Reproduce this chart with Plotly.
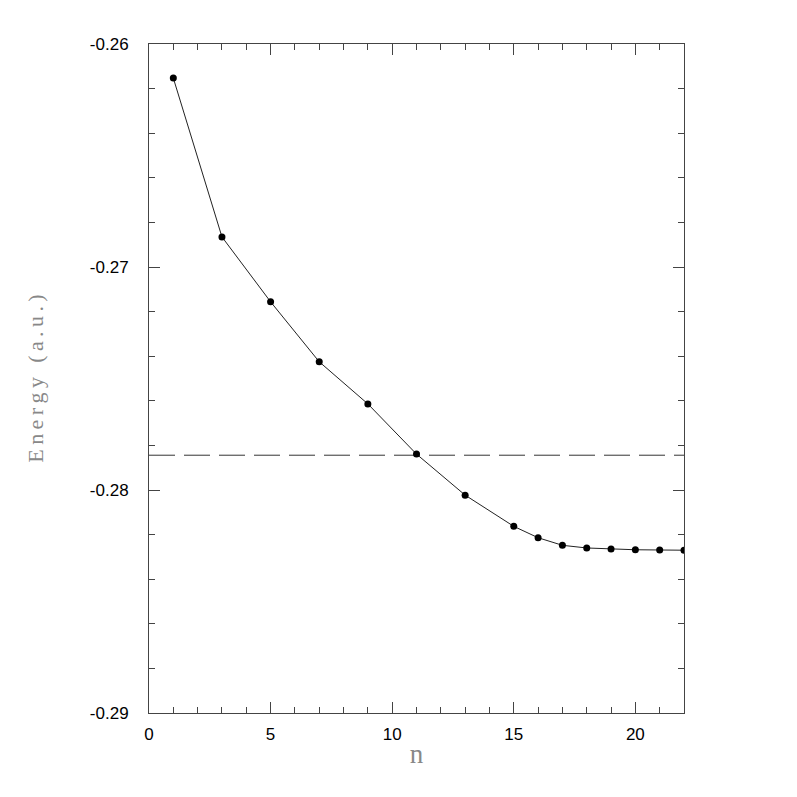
import plotly.graph_objects as go

n_values = [1, 3, 5, 7, 9, 11, 13, 15, 16, 17, 18, 19, 20, 21, 22]
energy = [-0.26153, -0.26865, -0.27156, -0.27425, -0.27614, -0.27839, -0.28023,
          -0.28163, -0.28214, -0.28248, -0.28260, -0.28265, -0.28268, -0.28269, -0.28270]
reference_energy = -0.27844
x_range = [0, 22]
y_range = [-0.29, -0.26]
x_tickvals = [0, 5, 10, 15, 20]
y_tickvals = [-0.29, -0.28, -0.27, -0.26]
y_ticktext = ["-0.29", "-0.28", "-0.27", "-0.26"]
x_title = "n"
y_title = "Energy (a.u.)"

def spaced(s):
    return "\u2009".join(list(s))

fig = go.Figure()
fig.add_trace(go.Scatter(
    x=x_range, y=[reference_energy, reference_energy], mode="lines",
    line=dict(color="#333333", width=1, dash="26px,9px"), hoverinfo="skip"))
fig.add_trace(go.Scatter(
    x=n_values, y=energy, mode="lines+markers",
    line=dict(color="#222222", width=1),
    marker=dict(color="black", size=7)))

axis_common = dict(
    showgrid=False, zeroline=False, showline=True, linecolor="#444444", linewidth=1,
    mirror="allticks", ticks="inside", ticklen=11, tickcolor="#444444", tickwidth=1,
    tickfont=dict(family="Liberation Sans, Arial", size=17, color="black"),
)

fig.update_xaxes(range=x_range, tickvals=x_tickvals, ticklabelstandoff=6,
                 minor=dict(dtick=1, ticks="inside", ticklen=6, tickcolor="#444444", tickwidth=1),
                 title=dict(text=x_title, font=dict(family="Liberation Serif, DejaVu Serif", size=27, color="#888888"),
                            standoff=0),
                 **axis_common)
fig.update_yaxes(range=y_range, tickvals=y_tickvals, ticktext=y_ticktext, ticklabelstandoff=16,
                 minor=dict(dtick=0.002, ticks="inside", ticklen=6, tickcolor="#444444", tickwidth=1),
                 title=dict(text=spaced(y_title), font=dict(family="Liberation Serif, DejaVu Serif", size=22, color="#888888"),
                            standoff=40),
                 **axis_common)

fig.update_layout(
    width=797, height=797, showlegend=False,
    plot_bgcolor="white", paper_bgcolor="white",
    margin=dict(l=141, r=121, t=36, b=92),
)
fig.write_html("out.html")
